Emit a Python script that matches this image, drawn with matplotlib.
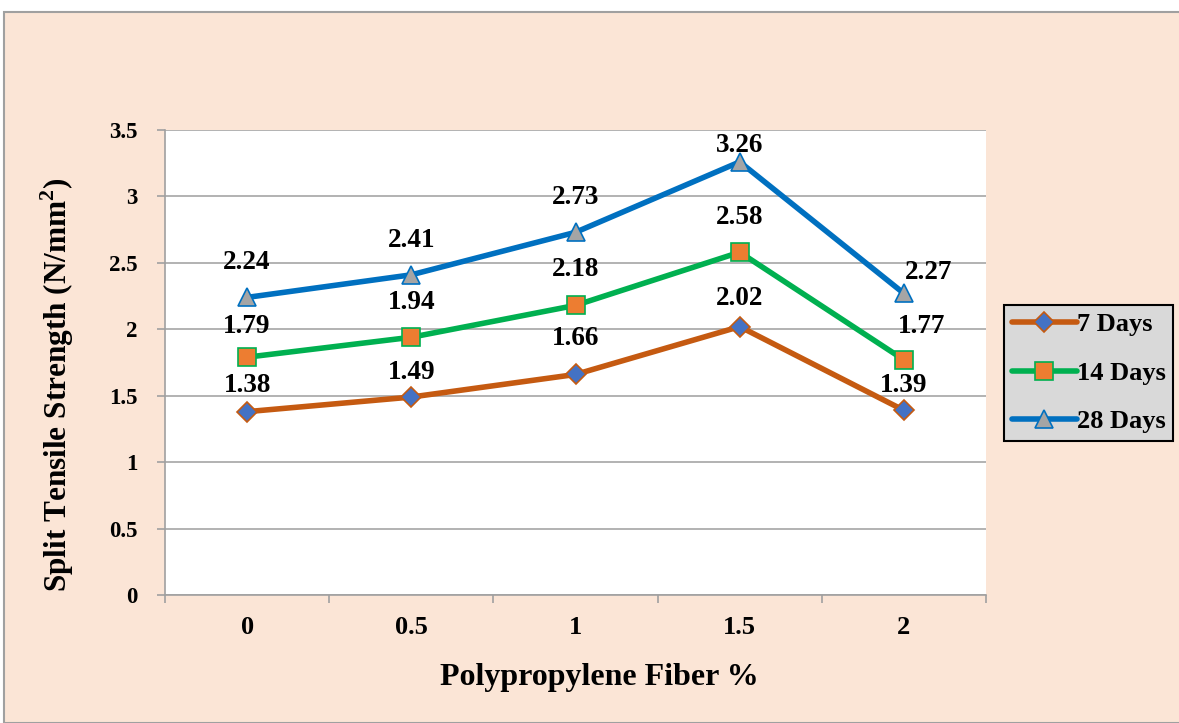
import numpy as np
import matplotlib
matplotlib.use("Agg")
import matplotlib.pyplot as plt
from matplotlib.patches import Rectangle

# fiber content (%) and split tensile strength (N/mm2)
fiber = ["0", "0.5", "1", "1.5", "2"]
days7 = [1.38, 1.49, 1.66, 2.02, 1.39]
days14 = [1.79, 1.94, 2.18, 2.58, 1.77]
days28 = [2.24, 2.41, 2.73, 3.26, 2.27]
series_names = ["7 Days", "14 Days", "28 Days"]

plt.rcParams['font.family'] = ['Liberation Serif', 'DejaVu Serif']
plt.rcParams['font.weight'] = 'bold'
plt.rcParams['mathtext.fontset'] = 'custom'
plt.rcParams['mathtext.rm'] = 'Liberation Serif:bold'
plt.rcParams['mathtext.bf'] = 'Liberation Serif:bold'

fig = plt.figure(figsize=(11.79, 7.23), dpi=100)
fig.patch.set_facecolor('white')

# chart area background
bg = Rectangle((4 / 1179, 0), 1.0, 1 - 12 / 723, transform=fig.transFigure,
               facecolor='#FBE5D6', edgecolor='#A0A0A0', linewidth=1.5, zorder=-10)
fig.add_artist(bg)

ax = fig.add_axes([165 / 1179, 128 / 723, 821 / 1179, 465 / 723])
ax.set_facecolor('white')

x = np.arange(len(fiber))
styles = [
    dict(color='#C55A11', marker='D', mfc='#4472C4', mec='#C55A11', ms=10.5),
    dict(color='#00B050', marker='s', mfc='#ED7D31', mec='#00B050', ms=12.5),
    dict(color='#0070C0', marker='^', mfc='#A5A5A5', mec='#0070C0', ms=13.5),
]
# label offsets (points) per series / point
offsets = [
    [(0, 19), (0, 18), (0, 26), (0, 20), (0, 18)],
    [(0, 22), (0, 25), (0, 26), (0, 25), (13, 24)],
    [(0, 25), (0, 25), (0, 25), (0, 12), (18, 15)],
]

for vals, name, st, offs in zip([days7, days14, days28], series_names, styles, offsets):
    ax.plot(x, vals, linewidth=4.0, markeredgewidth=1.2, label=name, zorder=3,
            solid_capstyle='round', **st)
    for xi, v, off in zip(x, vals, offs):
        ax.annotate(f"{v:.2f}", (xi, v), xytext=off, textcoords='offset points',
                    ha='center', va='center', fontsize=19.5, fontweight='bold', zorder=4)

ax.set_xlim(-0.5, len(fiber) - 0.5)
ax.set_ylim(0, 3.5)
ax.set_yticks(np.arange(0, 3.51, 0.5))
ax.set_yticklabels(["0", "0.5", "1", "1.5", "2", "2.5", "3", "3.5"])
ax.set_xticks(x)
ax.set_xticklabels(fiber)
ax.set_xticks(np.arange(-0.5, len(fiber), 1.0), minor=True)
ax.tick_params(axis='x', which='major', length=0, pad=15, labelsize=19)
ax.tick_params(axis='x', which='minor', length=6, color='#A0A0A0', width=1.2)
ax.tick_params(axis='y', length=6, color='#A0A0A0', width=1.2, pad=14, labelsize=16.5)
for lab in ax.get_xticklabels() + ax.get_yticklabels():
    lab.set_fontweight('bold')

ax.grid(axis='y', color='#A6A6A6', linewidth=1.2, zorder=0)
ax.set_axisbelow(True)
for s in ['top', 'right']:
    ax.spines[s].set_visible(False)
for s in ['left', 'bottom']:
    ax.spines[s].set_color('#A0A0A0')
    ax.spines[s].set_linewidth(1.2)

ax.set_xlabel("Polypropylene Fiber %", fontsize=23, fontweight='bold', va='center')
ax.set_ylabel(r"Split Tensile Strength (N/mm$^{\mathbf{2}}$)", fontsize=22.5,
              fontweight='bold', va='center')
ax.xaxis.set_label_coords((599 - 165) / 821, (595 - 677) / 465)
ax.yaxis.set_label_coords((57 - 165) / 821, (595 - 385) / 465)

leg = fig.legend(loc='upper left', bbox_to_anchor=(1004 / 1179, 1 - 305 / 723),
                 prop={'size': 19, 'weight': 'bold'}, facecolor='#D9D9D9', edgecolor='black',
                 framealpha=1, fancybox=False, handlelength=2.45, handletextpad=0.0,
                 borderpad=0.3, labelspacing=0.95, borderaxespad=0)
leg.get_frame().set_linewidth(1.5)

fig.savefig("out.png", dpi=100, facecolor=fig.get_facecolor())
